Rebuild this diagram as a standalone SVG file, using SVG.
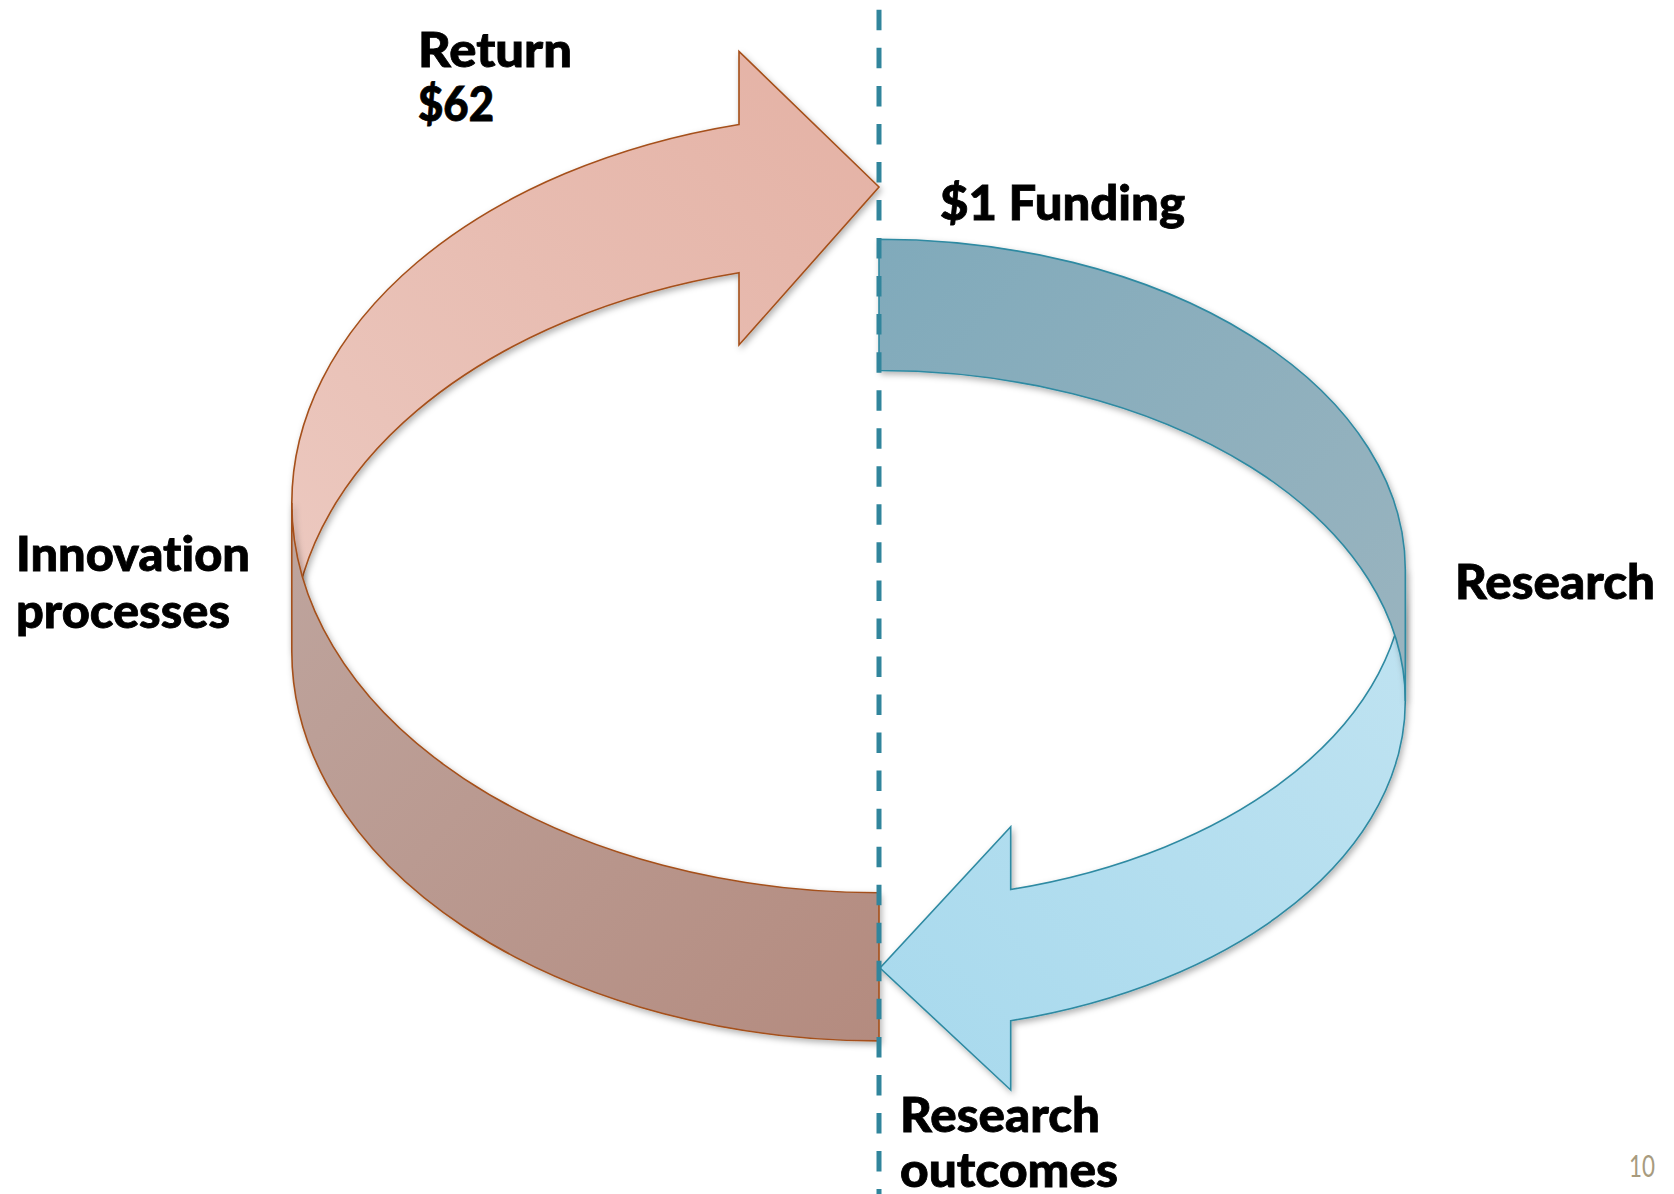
<svg xmlns="http://www.w3.org/2000/svg" width="1674" height="1194" viewBox="0 0 1674 1194">
  <style>
    .lbl { font-family: Lato, "Open Sans", "Liberation Sans", sans-serif; font-weight: 900; font-size: 48px; fill: #000; stroke: #000; stroke-width: 0.8; font-variant-ligatures: none; }
    .pg { font-family: Lato, "Open Sans", "Liberation Sans", sans-serif; font-weight: 400; font-size: 31px; fill: #a89b7e; }
    .warm { stroke: #a5501a; stroke-width: 1.6; stroke-linejoin: miter; }
    .cool { stroke: #2f8aa2; stroke-width: 1.6; stroke-linejoin: miter; }
    .divider { stroke: #31859c; stroke-width: 5; stroke-dasharray: 20.5 17.54; fill: none; }
  </style>
  <defs>
    <filter id="shadow" x="-10%" y="-10%" width="120%" height="120%">
      <feDropShadow dx="2" dy="3" stdDeviation="3" flood-color="#000" flood-opacity="0.3"/>
    </filter>
    <linearGradient id="gPink" x1="879" y1="60" x2="300" y2="620" gradientUnits="userSpaceOnUse">
      <stop offset="0" stop-color="#e4b1a4"/>
      <stop offset="1" stop-color="#ecc9c0"/>
    </linearGradient>
    <linearGradient id="gBrown" x1="300" y1="520" x2="879" y2="1040" gradientUnits="userSpaceOnUse">
      <stop offset="0" stop-color="#bea49d"/>
      <stop offset="1" stop-color="#b48b7f"/>
    </linearGradient>
    <linearGradient id="gDark" x1="879" y1="240" x2="1405" y2="700" gradientUnits="userSpaceOnUse">
      <stop offset="0" stop-color="#80aabb"/>
      <stop offset="1" stop-color="#9ab4bf"/>
    </linearGradient>
    <linearGradient id="gLight" x1="1405" y1="570" x2="880" y2="1090" gradientUnits="userSpaceOnUse">
      <stop offset="0" stop-color="#c0e3f1"/>
      <stop offset="1" stop-color="#a7d9ed"/>
    </linearGradient>
  </defs>

  <g id="return-arrow" filter="url(#shadow)">
    <path class="warm" fill="url(#gPink)" d="M291.8,503 A587.2,389.7 0 0 1 739,124.5 L739,51.5 L879,187 L739,345 L739,272.7 A587.2,389.7 0 0 0 291.8,651.2 Z"/>
  </g>
  <g id="innovation-band" filter="url(#shadow)">
    <path class="warm" fill="url(#gBrown)" d="M291.8,503 A587.2,389.7 0 0 0 879,892.7 L879,1040.9 A587.2,389.7 0 0 1 291.8,651.2 Z"/>
  </g>
  <g id="research-arrow" filter="url(#shadow)">
    <path class="cool" fill="url(#gLight)" d="M1405.3,569.6 A526.3,330.4 0 0 1 1010.7,889.5 L1010.7,826.7 L880,968 L1010.7,1090 L1010.7,1020.8 A526.3,330.4 0 0 0 1405.3,700.9 Z"/>
  </g>
  <g id="funding-band" filter="url(#shadow)">
    <path class="cool" fill="url(#gDark)" d="M879,239.2 A526.3,330.4 0 0 1 1405.3,569.6 L1405.3,700.9 A526.3,330.4 0 0 0 879,370.5 Z"/>
  </g>

  <g id="connectors">
    <line class="divider" x1="879" y1="9.8" x2="879" y2="1194"/>
  </g>

  <g id="label-return">
    <text class="lbl" x="418" y="67" textLength="154" lengthAdjust="spacingAndGlyphs">Return</text>
    <text class="lbl" x="418" y="121" textLength="76" lengthAdjust="spacingAndGlyphs">$62</text>
  </g>
  <g id="label-funding">
    <text class="lbl" x="940" y="219.5" textLength="245" lengthAdjust="spacingAndGlyphs">$1 Funding</text>
  </g>
  <g id="label-innovation">
    <text class="lbl" x="16" y="571" textLength="234" lengthAdjust="spacingAndGlyphs">Innovation</text>
    <text class="lbl" x="16" y="628" textLength="214" lengthAdjust="spacingAndGlyphs">processes</text>
  </g>
  <g id="label-research">
    <text class="lbl" x="1455" y="598.5" textLength="200" lengthAdjust="spacingAndGlyphs">Research</text>
  </g>
  <g id="label-outcomes">
    <text class="lbl" x="900" y="1131.5" textLength="200" lengthAdjust="spacingAndGlyphs">Research</text>
    <text class="lbl" x="900" y="1187" textLength="218" lengthAdjust="spacingAndGlyphs">outcomes</text>
  </g>
  <g id="page-number">
    <text class="pg" x="1629" y="1176.5" textLength="26" lengthAdjust="spacingAndGlyphs">10</text>
  </g>
</svg>
